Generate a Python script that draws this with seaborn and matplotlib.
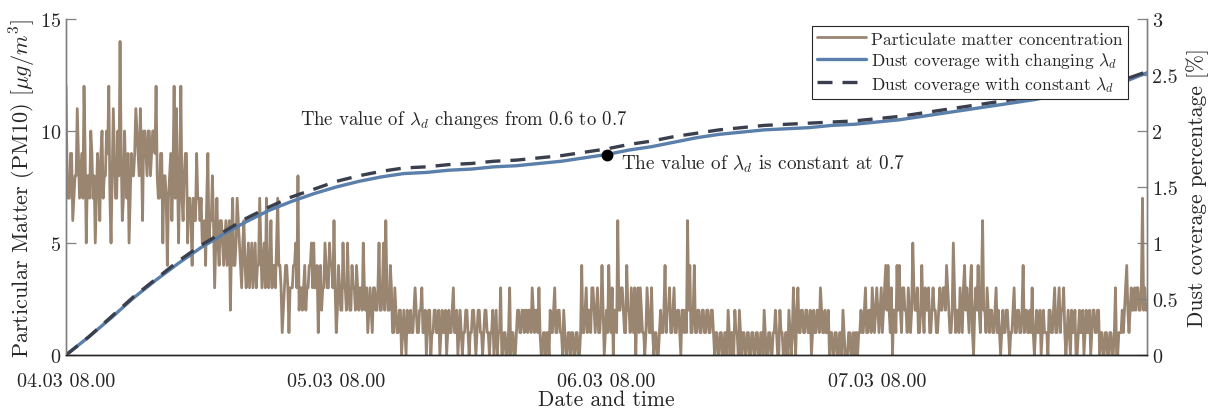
import numpy as np
import pandas as pd
import matplotlib
matplotlib.use("Agg")
import matplotlib.pyplot as plt
import matplotlib.dates as mdates
import seaborn as sns

# ---------------- data ----------------
start_time = "2023-03-04 08:00"
pm_step = "6min"
dust_step = "2h"

# readings at every 12 minutes (peaks / dips)
pm_day1 = [12, 7, 9, 6, 8, 11, 7, 9, 12, 5, 8, 10, 7, 5, 9, 6, 10, 8, 10, 12,
           5, 11, 7, 10, 14, 6, 10, 7, 5, 9, 8, 11, 9, 11, 6, 10, 8, 10, 9, 10,
           12, 7, 9, 5, 8, 4, 8, 6, 12, 11, 5, 12, 6, 9, 5, 7, 4, 6, 9, 7,
           7, 5, 4, 9, 6, 8, 3, 7, 4, 6, 4, 6, 5, 2, 7, 4, 7, 5, 3, 6,
           3, 5, 4, 3, 5, 4, 7, 3, 5, 7, 3, 6, 4, 3, 7, 4, 1, 3, 4, 1,
           3, 4, 5, 8, 3, 2, 4, 3, 4, 5, 5, 3, 1, 4, 3, 5, 3, 5, 4, 6]
pm_day2 = [1, 4, 2, 5, 3, 5, 2, 4, 3, 4, 2, 3, 5, 2, 1, 3, 1, 3, 2, 5,
           2, 5, 6, 2, 4, 1, 3, 1, 2, 0, 2, 0, 1, 2, 1, 3, 1, 2, 3, 1,
           0, 2, 0, 1, 2, 1, 0, 2, 1, 0, 2, 1, 3, 1, 0, 2, 0, 1, 2, 0,
           1, 2, 0, 2, 1, 0, 2, 1, 0, 1, 0, 2, 1, 3, 0, 1, 0, 3, 1, 0,
           1, 2, 1, 2, 2, 1, 2, 3, 1, 2, 3, 0, 1, 0, 1, 2, 1, 3, 1, 2,
           1, 2, 0, 1, 0, 1, 0, 1, 0, 4, 1, 3, 2, 1, 3, 1, 3, 1, 4, 0]
pm_day3 = [2, 4, 1, 0, 2, 6, 2, 3, 1, 4, 2, 3, 1, 0, 3, 3, 1, 0, 3, 1,
           3, 0, 1, 0, 2, 1, 4, 2, 3, 1, 3, 1, 2, 0, 2, 2, 6, 4, 1, 4,
           1, 2, 1, 2, 1, 2, 1, 2, 0, 1, 0, 1, 0, 1, 2, 0, 1, 2, 1, 2,
           0, 1, 0, 1, 0, 1, 0, 1, 0, 1, 2, 0, 1, 0, 1, 2, 0, 2, 1, 0,
           1, 2, 0, 3, 0, 3, 1, 2, 1, 2, 1, 0, 2, 1, 2, 3, 1, 2, 1, 0,
           1, 0, 1, 0, 1, 2, 0, 0, 1, 0, 0, 1, 1, 2, 1, 3, 1, 2, 3, 1]
pm_day4 = [3, 1, 3, 2, 4, 4, 1, 0, 2, 4, 4, 1, 3, 2, 3, 1, 5, 2, 3, 1,
           4, 1, 2, 3, 1, 3, 2, 1, 3, 2, 3, 4, 2, 1, 5, 1, 2, 3, 1, 4,
           3, 1, 4, 0, 3, 4, 1, 6, 2, 3, 1, 2, 1, 3, 2, 0, 2, 1, 2, 0,
           1, 3, 1, 2, 1, 4, 2, 1, 2, 3, 0, 2, 1, 0, 2, 1, 0, 2, 1, 3,
           1, 3, 2, 3, 0, 2, 0, 1, 2, 0, 2, 1, 0, 2, 1, 0, 2, 1, 2, 0,
           1, 0, 1, 0, 1, 0, 3, 0, 1, 2, 2, 4, 1, 3, 2, 2, 3, 2, 7, 3, 2]

# readings in between (the dense band level)
pm_mid_day1 = [8, 7, 9, 7, 8, 9, 8, 7, 9, 8, 7, 9, 8, 7, 8, 9, 7, 8, 9, 7,
               8, 9, 7, 8, 9, 7, 8, 9, 7, 8, 9, 10, 8, 9, 10, 9, 10, 8, 10, 9,
               8, 7, 9, 8, 7, 7, 9, 8, 7, 8, 8, 7, 8, 9, 7, 6, 7, 6, 7, 6,
               5, 6, 7, 5, 6, 6, 5, 5, 6, 5, 5, 4, 6, 5, 4, 5, 6, 4, 5, 4,
               4, 3, 5, 4, 3, 4, 5, 4, 3, 4, 4, 3, 4, 5, 4, 3, 2, 4, 3, 3,
               3, 4, 3, 2, 3, 3, 2, 3, 4, 3, 3, 4, 3, 2, 3, 4, 3, 4, 3, 3]
pm_mid_day2 = [2, 3, 2, 3, 2, 3, 2, 3, 2, 3, 3, 2, 3, 3, 2, 2, 3, 2, 3, 2,
               3, 2, 3, 2, 3, 1, 2, 1, 2, 1, 1, 2, 1, 1, 2, 2, 1, 2, 1, 2,
               1, 2, 1, 2, 1, 2, 1, 1, 2, 1, 1, 2, 1, 2, 1, 1, 1, 2, 1, 1,
               2, 1, 1, 2, 1, 1, 2, 1, 1, 2, 1, 0, 1, 0, 1, 0, 1, 0, 1, 0,
               2, 1, 2, 1, 2, 2, 1, 2, 2, 1, 1, 0, 1, 1, 0, 1, 2, 1, 2, 1,
               0, 1, 0, 1, 1, 0, 1, 0, 1, 1, 2, 1, 2, 3, 2, 2, 1, 2, 2, 1]
pm_mid_day3 = [1, 2, 3, 2, 1, 2, 3, 2, 1, 2, 1, 2, 3, 2, 1, 2, 1, 1, 2, 1,
               1, 1, 0, 1, 1, 2, 1, 2, 1, 2, 1, 2, 1, 2, 1, 1, 2, 1, 2, 1,
               2, 1, 2, 1, 2, 1, 2, 1, 1, 0, 1, 0, 1, 0, 1, 1, 0, 1, 0, 1,
               1, 0, 1, 0, 1, 0, 1, 0, 1, 0, 1, 0, 1, 0, 1, 1, 0, 1, 0, 1,
               0, 1, 1, 1, 2, 1, 2, 1, 2, 1, 2, 1, 1, 2, 1, 2, 1, 1, 2, 1,
               0, 1, 0, 1, 0, 1, 0, 1, 0, 1, 1, 0, 1, 1, 2, 1, 2, 1, 2, 2]
pm_mid_day4 = [2, 2, 1, 3, 2, 2, 3, 2, 1, 2, 2, 3, 2, 1, 2, 2, 3, 2, 1, 2,
               2, 3, 2, 1, 2, 2, 1, 2, 2, 3, 2, 3, 1, 2, 3, 2, 1, 2, 3, 2,
               2, 3, 1, 2, 2, 2, 3, 2, 1, 2, 2, 1, 2, 1, 1, 1, 1, 2, 1, 1,
               2, 1, 2, 1, 2, 1, 2, 1, 1, 1, 1, 1, 2, 1, 1, 1, 2, 1, 2, 1,
               2, 1, 2, 1, 1, 1, 2, 1, 0, 1, 1, 2, 1, 1, 2, 1, 2, 1, 2, 1,
               0, 1, 0, 1, 0, 1, 0, 1, 1, 1, 3, 2, 2, 2, 3, 3, 2, 3, 2, 2]

dust_changing = [0.00, 0.16, 0.33, 0.51, 0.67, 0.82, 0.96, 1.08, 1.19, 1.29,
                 1.37, 1.44, 1.50, 1.55, 1.59, 1.62, 1.63, 1.65, 1.66, 1.68,
                 1.69, 1.71, 1.73, 1.76, 1.79, 1.83, 1.86, 1.90, 1.94, 1.97,
                 1.99, 2.01, 2.02, 2.03, 2.05, 2.06, 2.08, 2.10, 2.13, 2.16,
                 2.19, 2.22, 2.25, 2.28, 2.32, 2.36, 2.39, 2.44, 2.52]
dust_constant = [0.00, 0.16, 0.34, 0.52, 0.68, 0.84, 0.98, 1.10, 1.22, 1.32,
                 1.41, 1.48, 1.55, 1.60, 1.64, 1.67, 1.68, 1.70, 1.71, 1.73,
                 1.74, 1.76, 1.78, 1.81, 1.84, 1.88, 1.91, 1.95, 1.98, 2.01,
                 2.03, 2.05, 2.06, 2.07, 2.08, 2.09, 2.11, 2.13, 2.16, 2.19,
                 2.22, 2.25, 2.28, 2.31, 2.35, 2.39, 2.42, 2.46, 2.53]

x_tick_times = ["2023-03-04 08:00", "2023-03-05 08:00",
                "2023-03-06 08:00", "2023-03-07 08:00"]
x_end_time = "2023-03-08 08:00"
marker_index = 24  # 06.03 08.00 on the changing-lambda curve

label_pm = "Particulate matter concentration"
label_chg = r"Dust coverage with changing $\lambda_d$"
label_const = r"Dust coverage with constant $\lambda_d$"
text_change = r"The value of $\lambda_d$ changes from 0.6 to 0.7"
text_const = r"The value of $\lambda_d$ is constant at 0.7"

# ---------------- tables ----------------
pm_main = pm_day1 + pm_day2 + pm_day3 + pm_day4
pm_mid = pm_mid_day1 + pm_mid_day2 + pm_mid_day3 + pm_mid_day4
pm_values = []
for a_val, b_val in zip(pm_main[:-1], pm_mid):
    pm_values += [a_val, b_val]
pm_values.append(pm_main[-1])

pm_df = pd.DataFrame({
    "time": pd.date_range(start_time, periods=len(pm_values), freq=pm_step),
    "pm": pm_values,
})
dust_df = pd.DataFrame({
    "time": pd.date_range(start_time, periods=len(dust_changing), freq=dust_step),
    "changing": dust_changing,
    "constant": dust_constant,
})

# ---------------- style ----------------
sns.set_theme(style="white")
plt.rcParams["font.family"] = ["cmr10", "DejaVu Serif"]
plt.rcParams["mathtext.fontset"] = "cm"
plt.rcParams["axes.unicode_minus"] = False
plt.rcParams["axes.formatter.use_mathtext"] = True

brown = "#9a8571"
blue = "#5a7fab"
dark = "#3a3f4e"
gray_spine = "#808080"
fs = 14.5
fs_label = 15.5

fig = plt.figure(figsize=(12.18, 4.14), dpi=100)
ax = fig.add_axes([66 / 1218, 58 / 414, (1147 - 66) / 1218, (356 - 20) / 414])

sns.lineplot(data=pm_df, x="time", y="pm", ax=ax, color=brown, lw=2.0,
             label=label_pm, legend=False)
ax2 = ax.twinx()
sns.lineplot(data=dust_df, x="time", y="changing", ax=ax2, color=blue, lw=2.4,
             label=label_chg, legend=False)
sns.lineplot(data=dust_df, x="time", y="constant", ax=ax2, color=dark, lw=2.4,
             ls=(0, (4.5, 3)), label=label_const, legend=False)
ax2.plot(dust_df["time"].iloc[marker_index], dust_df["changing"].iloc[marker_index],
         "o", color="black", ms=7.5, zorder=5)

ax.set_xlim(pd.Timestamp(start_time), pd.Timestamp(x_end_time))
ax.set_ylim(0, 15)
ax2.set_ylim(0, 3)
ax.set_yticks([0, 5, 10, 15])
ax2.set_yticks([0, 0.5, 1, 1.5, 2, 2.5, 3])
ax2.set_yticklabels(["0", "0.5", "1", "1.5", "2", "2.5", "3"])
ax.set_xticks([pd.Timestamp(t) for t in x_tick_times])
ax.xaxis.set_major_formatter(mdates.DateFormatter("%d.%m %H.%M"))

ax.set_xlabel("Date and time", fontsize=fs_label, labelpad=0)
ax.set_ylabel(r"Particular Matter (PM10) [$\mu g/m^3$]", fontsize=16, labelpad=1)
ax2.set_ylabel("Dust coverage percentage [%]", fontsize=fs_label, rotation=90,
               labelpad=6)

for a in (ax, ax2):
    a.spines["top"].set_visible(False)
    a.spines["left"].set_color(gray_spine)
    a.spines["right"].set_color(gray_spine)
    a.spines["bottom"].set_color("#262626")
    for s in a.spines.values():
        s.set_linewidth(1.0)
ax.tick_params(axis="both", direction="in", length=7, width=0.9, labelsize=fs,
               colors="#262626")
ax.tick_params(axis="y", colors=gray_spine, labelcolor="#262626")
ax.tick_params(axis="x", pad=12)
ax2.tick_params(axis="y", direction="in", length=7, width=0.9, labelsize=fs,
                colors=gray_spine, labelcolor="#262626")

ax2.text(pd.Timestamp(start_time) + pd.Timedelta(hours=20.8), 2.11, text_change,
         fontsize=13.5, va="center", ha="left", color="#262626")
ax2.text(pd.Timestamp(start_time) + pd.Timedelta(hours=49.3), 1.71, text_const,
         fontsize=13.8, va="center", ha="left", color="#262626")

h1, l1 = ax.get_legend_handles_labels()
h2, l2 = ax2.get_legend_handles_labels()
leg = ax2.legend(h1 + h2, l1 + l2, loc="upper right",
                 bbox_to_anchor=(1128 / 1218, (414 - 27) / 414),
                 bbox_transform=fig.transFigure, fontsize=12.6, frameon=True,
                 fancybox=False, framealpha=1, edgecolor="#262626",
                 borderpad=0.3, labelspacing=0.2, handlelength=2.8,
                 handletextpad=0.3, borderaxespad=0)
leg.get_frame().set_linewidth(0.8)

fig.savefig("out.png", dpi=100)
